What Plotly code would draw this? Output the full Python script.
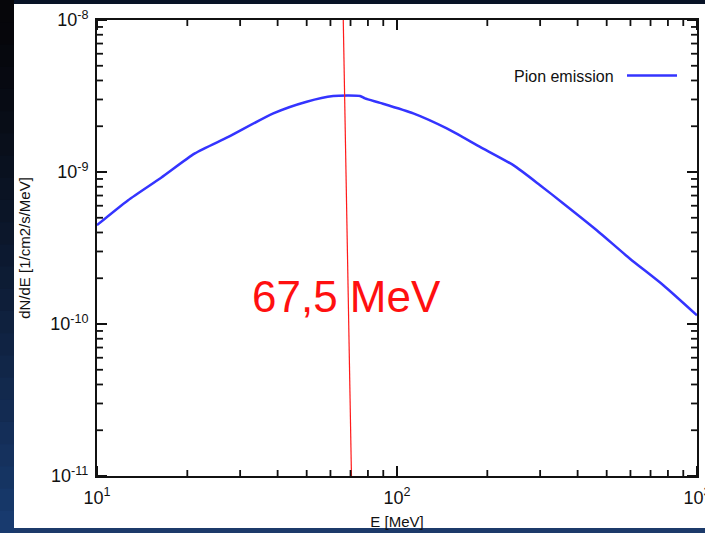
import math
import plotly.graph_objects as go

# ---- data ----
energy_mev = [10, 12.7, 16.4, 21.2, 27.4, 38.7, 50.0, 61.3, 75.3, 78.2, 87.8,
              113.3, 146.5, 189.1, 244.2, 299.8, 358.4, 463.2, 597.7, 772.1, 1000]
flux = [4.47e-10, 6.52e-10, 9.20e-10, 1.325e-9, 1.70e-9, 2.43e-9, 2.90e-9,
        3.16e-9, 3.16e-9, 3.05e-9, 2.85e-9, 2.43e-9, 1.935e-9, 1.463e-9,
        1.109e-9, 8.19e-10, 6.21e-10, 4.14e-10, 2.69e-10, 1.80e-10, 1.14e-10]
series_name = "Pion emission"
marker_line_x = [66.2, 70.5]          # hand-drawn red marker line (MeV)
marker_line_y = [1e-8, 1e-11]
marker_label = "67,5 MeV"
x_title = "E [MeV]"
y_title = "dN/dE [1/cm2/s/MeV]"
x_tick_vals = [10, 100, 1000]
x_tick_text = ["10<sup>1</sup>", "10<sup>2</sup>", "10<sup>3</sup>"]
y_tick_vals = [1e-11, 1e-10, 1e-9, 1e-8]
y_tick_text = ["10<sup>-11</sup>", "10<sup>-10</sup>", "10<sup>-9</sup>", "10<sup>-8</sup>"]
x_minor_vals = [m * d for d in (10, 100) for m in range(2, 10)]
y_minor_vals = [m * d for d in (1e-11, 1e-10, 1e-9) for m in range(2, 10)]

W, H = 705, 533
L, R, T, B = 97, 8, 20, 57
pw, ph = W - L - R, H - T - B

def px(xp):
    return (xp - L) / pw

def py(yp):
    return (H - B - yp) / ph

FONT = "Liberation Sans, Arial"
INK = "#111"

fig = go.Figure()
fig.add_trace(go.Scatter(x=energy_mev, y=flux, mode="lines", name=series_name,
                         line=dict(color="#3434ff", width=2.5, shape="spline", smoothing=0.6),
                         showlegend=False))
fig.add_trace(go.Scatter(x=marker_line_x, y=marker_line_y, mode="lines",
                         line=dict(color="#ff1a1a", width=1.2), showlegend=False,
                         hoverinfo="skip"))

shapes = []
# white slide panel
shapes.append(dict(type="rect", xref="paper", yref="paper", layer="below",
                   x0=px(14), x1=px(W + 5), y0=py(528), y1=py(4),
                   fillcolor="white", line=dict(width=0)))
# dark left strip gradient (space background)
n = 24
c0 = (6, 6, 10)
c1 = (24, 58, 110)
for i in range(n):
    t = i / (n - 1)
    col = tuple(int(c0[k] + (c1[k] - c0[k]) * t ** 1.3) for k in range(3))
    shapes.append(dict(type="rect", xref="paper", yref="paper", layer="below",
                       x0=px(-2), x1=px(14), y0=py(H * (i + 1) / n + 1), y1=py(H * i / n),
                       fillcolor="rgb(%d,%d,%d)" % col, line=dict(width=0)))
# bottom blue strip
shapes.append(dict(type="rect", xref="paper", yref="paper", layer="below",
                   x0=px(14), x1=px(W + 5), y0=py(H + 2), y1=py(528),
                   fillcolor="#1c3a6a", line=dict(width=0)))
# legend sample line
shapes.append(dict(type="line", xref="paper", yref="paper",
                   x0=px(627), x1=px(677), y0=py(75.5), y1=py(75.5),
                   line=dict(color="#3434ff", width=2.5)))

# inside tick marks on all four sides (gnuplot style), positioned from the tick arrays
MAJ, MIN = 10, 6
def xticks(vals, ln, w):
    out = []
    for v in vals:
        f = (math.log10(v) - 1) / 2          # fraction along the x range [1, 3]
        out.append(dict(type="line", xref="paper", yref="paper", x0=f, x1=f,
                        y0=0, y1=ln / ph, layer="above", line=dict(color=INK, width=w)))
        out.append(dict(type="line", xref="paper", yref="paper", x0=f, x1=f,
                        y0=1, y1=1 - ln / ph, layer="above", line=dict(color=INK, width=w)))
    return out

def yticks(vals, ln, w):
    out = []
    for v in vals:
        f = (math.log10(v) + 11) / 3          # fraction along the y range [-11, -8]
        out.append(dict(type="line", xref="paper", yref="paper", y0=f, y1=f,
                        x0=0, x1=ln / pw, layer="above", line=dict(color=INK, width=w)))
        out.append(dict(type="line", xref="paper", yref="paper", y0=f, y1=f,
                        x0=1, x1=1 - ln / pw, layer="above", line=dict(color=INK, width=w)))
    return out

shapes += xticks(x_tick_vals, MAJ, 2) + xticks(x_minor_vals, MIN, 1.8)
shapes += yticks(y_tick_vals, MAJ, 2) + yticks(y_minor_vals, MIN, 1.8)

annotations = [
    dict(text=marker_label, xref="paper", yref="paper", x=px(346.5), y=py(296),
         showarrow=False, xanchor="center", yanchor="middle",
         font=dict(family=FONT, size=44, color="#ff1010")),
    dict(text=series_name, xref="paper", yref="paper", x=px(616), y=py(76),
         showarrow=False, xanchor="right", yanchor="middle",
         font=dict(family=FONT, size=16, color=INK)),
]

major = dict(type="log", showgrid=False, zeroline=False, showline=True,
             linecolor=INK, linewidth=2, ticks="", mirror=True,
             automargin=False, tickmode="array", ticklabeloverflow="allow",
             tickfont=dict(family=FONT, size=18, color=INK))

fig.update_layout(
    xaxis=dict(**major, range=[1, 3], tickvals=x_tick_vals, ticktext=x_tick_text,
               ticklabelstandoff=4,
               title=dict(text=x_title, standoff=10, font=dict(family=FONT, size=15, color=INK))),
    yaxis=dict(**major, range=[-11, -8], tickvals=y_tick_vals, ticktext=y_tick_text,
               ticklabelstandoff=3,
               title=dict(text=y_title, standoff=16, font=dict(family=FONT, size=15, color=INK))),
    width=W, height=H, margin=dict(l=L, r=R, t=T, b=B, autoexpand=False),
    paper_bgcolor="#081326", plot_bgcolor="white",
    shapes=shapes, annotations=annotations, showlegend=False)

fig.write_html("out.html", config={"displayModeBar": False},
               post_script="document.body.style.margin='0';")
